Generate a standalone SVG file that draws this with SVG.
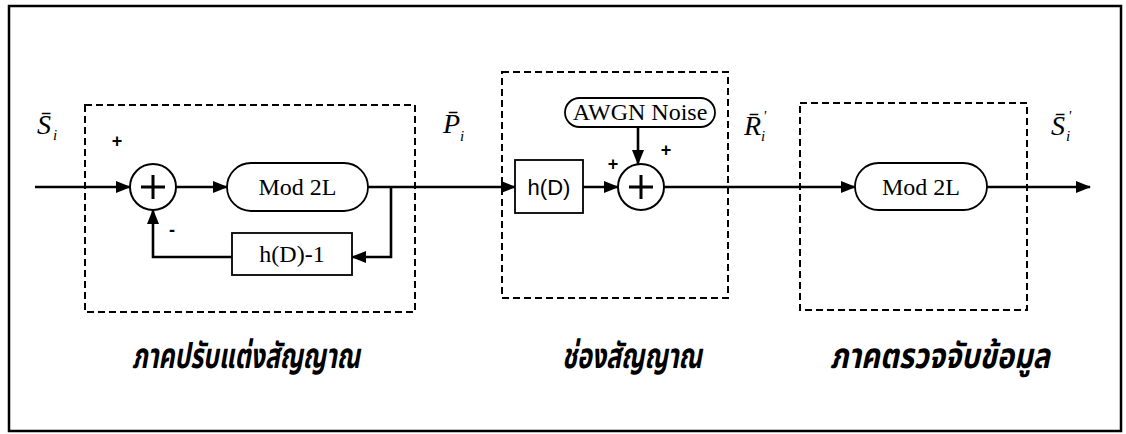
<svg xmlns="http://www.w3.org/2000/svg" width="1126" height="434" viewBox="0 0 1126 434">
<style>
.ln{stroke:#000;stroke-width:2.6;fill:none}
.box{stroke:#000;stroke-width:1.8;fill:#fff}
.dash{stroke:#000;stroke-width:2;fill:none;stroke-dasharray:7 4}
.serif{font-family:"Liberation Serif","Times New Roman",serif;font-size:24px;fill:#000}
.sans{font-family:"Liberation Sans",Arial,sans-serif;font-size:22px;fill:#000}
.math{font-family:"Liberation Serif","Times New Roman",serif;font-style:italic;font-size:28px;fill:#000}
.sub{font-family:"Liberation Serif","Times New Roman",serif;font-style:italic;font-size:15px;fill:#000}
.sign{font-family:"Liberation Sans",Arial,sans-serif;font-weight:bold;font-size:18px;fill:#000}
.thai{font-family:"Noto Sans Thai","Loma","Garuda","Norasi","Noto Sans","DejaVu Sans",sans-serif;font-weight:bold;font-style:italic;font-size:35px;fill:#000}
</style>
<defs>
<marker id="ah" viewBox="0 0 15 12" refX="14" refY="6" markerWidth="15" markerHeight="12" markerUnits="userSpaceOnUse" orient="auto">
<path d="M0,0 L15,6 L0,12 Z" fill="#000"/>
</marker>
</defs>
<rect x="9" y="6" width="1112" height="425" fill="none" stroke="#000" stroke-width="2.5"/>

<g id="stage1">
<rect class="dash" x="85" y="105" width="330" height="207"/>
</g>
<g id="stage2">
<rect class="dash" x="502" y="72" width="226" height="226"/>
</g>
<g id="stage3">
<rect class="dash" x="800" y="103" width="227" height="207"/>
</g>

<g id="connectors">
<line class="ln" x1="35" y1="187" x2="130" y2="187" marker-end="url(#ah)"/>
<line class="ln" x1="176" y1="187" x2="227" y2="187" marker-end="url(#ah)"/>
<line class="ln" x1="368" y1="187" x2="515" y2="187" marker-end="url(#ah)"/>
<polyline class="ln" points="391,187 391,257 352,257" marker-end="url(#ah)"/>
<polyline class="ln" points="232,257 153,257 153,210" marker-end="url(#ah)"/>
<line class="ln" x1="583" y1="187" x2="618" y2="187" marker-end="url(#ah)"/>
<line class="ln" x1="638" y1="127" x2="638" y2="164" marker-end="url(#ah)"/>
<line class="ln" x1="664" y1="187" x2="855" y2="187" marker-end="url(#ah)"/>
<line class="ln" x1="987" y1="187" x2="1090" y2="187" marker-end="url(#ah)"/>
</g>

<g id="sum1">
<circle cx="153" cy="187" r="23" fill="#fff" stroke="#000" stroke-width="2"/>
<path d="M141,187 H165 M153,175 V199" stroke="#000" stroke-width="3"/>
</g>
<g id="mod1">
<rect class="box" x="227" y="163" width="141" height="48" rx="24"/>
<text class="serif" x="297.5" y="195" text-anchor="middle">Mod 2L</text>
</g>
<g id="hd1">
<rect class="box" x="232" y="233" width="120" height="42"/>
<text class="serif" x="292" y="262" text-anchor="middle">h(D)-1</text>
</g>
<g id="hd">
<rect class="box" x="515" y="160" width="68" height="53"/>
<text class="sans" x="549" y="195" text-anchor="middle">h(D)</text>
</g>
<g id="sum2">
<circle cx="641" cy="187" r="23" fill="#fff" stroke="#000" stroke-width="2"/>
<path d="M629,187 H653 M641,175 V199" stroke="#000" stroke-width="3"/>
</g>
<g id="awgn">
<rect class="box" x="565" y="98" width="150" height="29" rx="14.5"/>
<text class="serif" x="640" y="120" text-anchor="middle">AWGN Noise</text>
</g>
<g id="mod2">
<rect class="box" x="855" y="163" width="132" height="47" rx="23.5"/>
<text class="serif" x="921" y="195" text-anchor="middle">Mod 2L</text>
</g>

<g id="signs">
<text class="sign" x="117" y="147" text-anchor="middle">+</text>
<text class="sign" x="172" y="236" text-anchor="middle">-</text>
<text class="sign" x="613" y="170" text-anchor="middle">+</text>
<text class="sign" x="666" y="156" text-anchor="middle">+</text>
</g>

<g id="labels">
<text class="math" x="37" y="134">S̄</text><text class="sub" x="53" y="140">i</text>
<text class="math" x="443" y="133">P̄</text><text class="sub" x="460" y="141">i</text>
<text class="math" x="744" y="135">R̄</text><text class="sub" x="761" y="141">i</text><text class="sub" x="763" y="121">'</text>
<text class="math" x="1051" y="135">S̄</text><text class="sub" x="1066" y="141">i</text><text class="sub" x="1068" y="121">'</text>
</g>

<g id="captions">
<text class="thai" x="132" y="368" textLength="228" lengthAdjust="spacingAndGlyphs">ภาคปรับแต่งสัญญาณ</text>
<text class="thai" x="562" y="368" textLength="140" lengthAdjust="spacingAndGlyphs">ช่องสัญญาณ</text>
<text class="thai" x="830" y="368" textLength="220" lengthAdjust="spacingAndGlyphs">ภาคตรวจจับข้อมูล</text>
</g>
</svg>
